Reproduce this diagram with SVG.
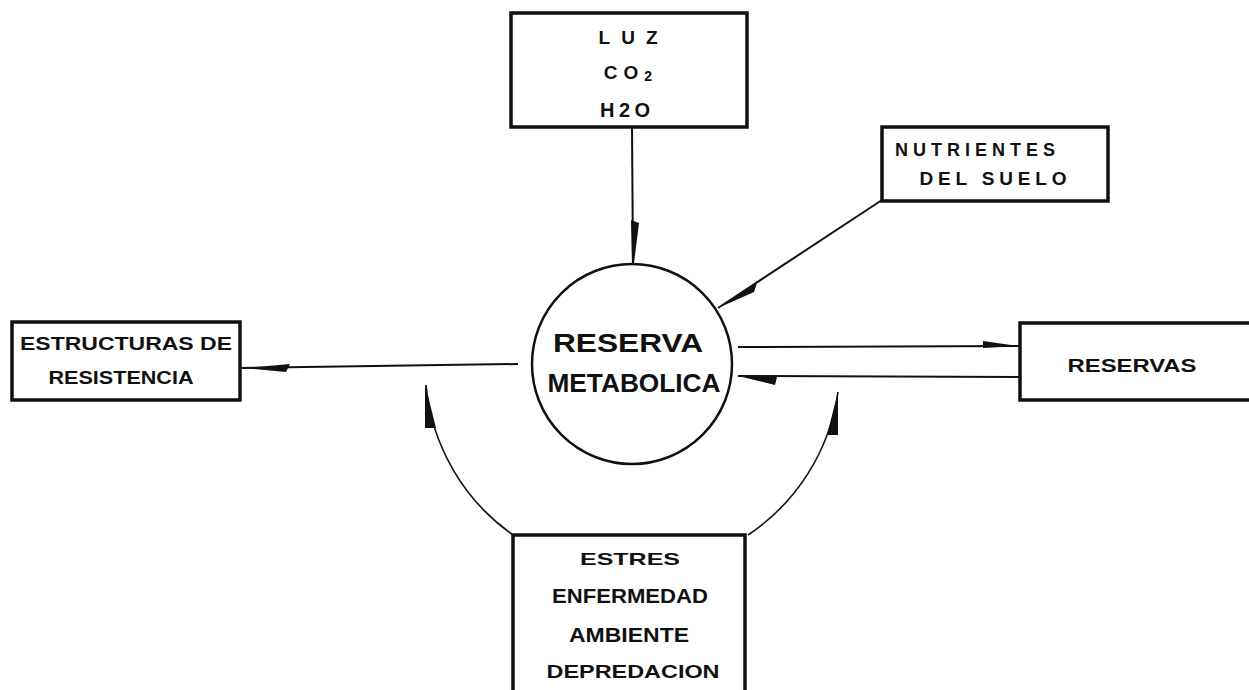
<svg xmlns="http://www.w3.org/2000/svg" width="1249" height="690" viewBox="0 0 1249 690">
<style>
.box{fill:#fff;stroke:#111;stroke-width:3.5}
.circ{fill:#fff;stroke:#111;stroke-width:2.5}
.ln{fill:none;stroke:#111;stroke-width:2}
.arc{fill:none;stroke:#111;stroke-width:1.6}
.hd{fill:#111;stroke:none}
.t{font-family:"Liberation Sans",Arial,sans-serif;font-weight:bold;fill:#111;text-anchor:middle}
</style>
<rect width="1249" height="690" fill="#fff"/>
<g id="connectors">
<line class="ln" x1="632" y1="127" x2="633" y2="264"/>
<polygon class="hd" points="631,220 639,223 634,263 632,263"/>
<line class="ln" x1="882" y1="200" x2="718" y2="308"/>
<polygon class="hd" points="718,308 757,283 754,292"/>
<line class="ln" x1="518" y1="364" x2="242" y2="368"/>
<polygon class="hd" points="244,368 290,364 286,372"/>
<line class="ln" x1="738" y1="347" x2="1020" y2="346"/>
<polygon class="hd" points="1018,346 983,341 983,348"/>
<line class="ln" x1="1020" y1="377" x2="738" y2="376"/>
<polygon class="hd" points="738,376 777,377 775,385"/>
<path class="arc" d="M 426 385 A 207 207 0 0 0 513 535"/>
<polygon class="hd" points="425,384 425,428 436,428"/>
<path class="arc" d="M 838 392 A 207 207 0 0 1 748 535"/>
<polygon class="hd" points="838,392 838,435 827,435"/>
</g>
<g id="node-luz">
<rect class="box" x="511" y="13" width="236" height="114"/>
<text class="t" x="628" y="44" font-size="19" textLength="59" lengthAdjust="spacing">LUZ</text>
<text class="t" x="631" y="79" font-size="19" letter-spacing="6">CO<tspan font-size="14" dy="2">2</tspan></text>
<text class="t" x="625" y="117" font-size="20" textLength="50" lengthAdjust="spacing">H2O</text>
</g>
<g id="node-nutrientes">
<rect class="box" x="882" y="127" width="226" height="74"/>
<text class="t" x="975" y="156" font-size="18" textLength="160" lengthAdjust="spacing">NUTRIENTES</text>
<text class="t" x="993" y="185" font-size="19" textLength="147" lengthAdjust="spacing">DEL SUELO</text>
</g>
<g id="node-reserva-metabolica">
<circle class="circ" cx="632" cy="364" r="100"/>
<text class="t" x="628" y="352" font-size="25" textLength="150" lengthAdjust="spacingAndGlyphs">RESERVA</text>
<text class="t" x="634" y="392" font-size="26" textLength="173" lengthAdjust="spacingAndGlyphs">METABOLICA</text>
</g>
<g id="node-estructuras">
<rect class="box" x="12" y="322" width="228" height="78"/>
<text class="t" x="126" y="350" font-size="18" textLength="212" lengthAdjust="spacingAndGlyphs">ESTRUCTURAS DE</text>
<text class="t" x="121" y="384" font-size="18" textLength="145" lengthAdjust="spacingAndGlyphs">RESISTENCIA</text>
</g>
<g id="node-reservas">
<rect class="box" x="1020" y="323" width="240" height="77"/>
<text class="t" x="1132" y="372" font-size="18" textLength="129" lengthAdjust="spacingAndGlyphs">RESERVAS</text>
</g>
<g id="node-estres">
<rect class="box" x="513" y="535" width="232" height="160"/>
<text class="t" x="630" y="565" font-size="17" textLength="100" lengthAdjust="spacingAndGlyphs">ESTRES</text>
<text class="t" x="630" y="603" font-size="20" textLength="156" lengthAdjust="spacingAndGlyphs">ENFERMEDAD</text>
<text class="t" x="629" y="642" font-size="20" textLength="120" lengthAdjust="spacingAndGlyphs">AMBIENTE</text>
<text class="t" x="633" y="678" font-size="18" textLength="173" lengthAdjust="spacingAndGlyphs">DEPREDACION</text>
</g>
</svg>
